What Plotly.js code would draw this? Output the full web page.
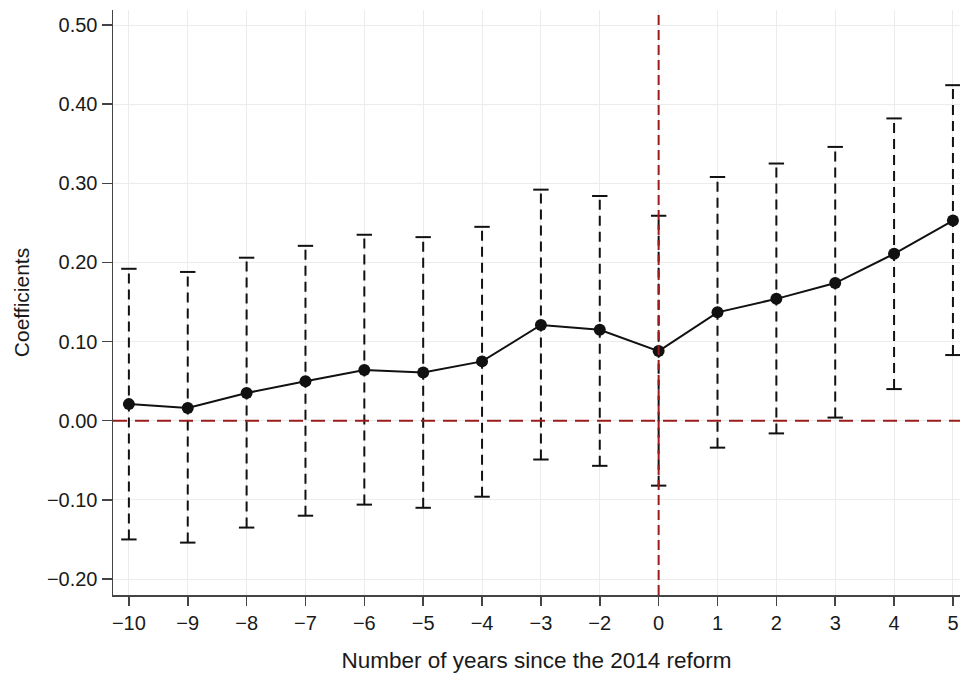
<!DOCTYPE html>
<html><head><meta charset="utf-8">
<script src="https://cdn.plot.ly/plotly-3.0.1.min.js"></script>
<style>body{margin:0;background:#fff}#chart{width:960px;height:673px}</style>
</head><body><div id="chart"></div>
<script>
// Event-study years (year -1 is the omitted reference)
const years = [-10, -9, -8, -7, -6, -5, -4, -3, -2, 0, 1, 2, 3, 4, 5];
const coef  = [0.021, 0.016, 0.035, 0.050, 0.064, 0.061, 0.075, 0.121, 0.115, 0.088, 0.137, 0.154, 0.174, 0.211, 0.253];
const ciHigh= [0.192, 0.188, 0.206, 0.221, 0.235, 0.232, 0.245, 0.292, 0.284, 0.259, 0.308, 0.325, 0.346, 0.382, 0.424];
const ciLow = [-0.150, -0.154, -0.135, -0.120, -0.106, -0.110, -0.096, -0.049, -0.057, -0.082, -0.034, -0.016, 0.004, 0.040, 0.083];
const yTicks = [-0.2, -0.1, 0, 0.1, 0.2, 0.3, 0.4, 0.5];
const reformYear = 0;

const lab = v => String(v).replace('-', '\u2212');
const xs = years.map(lab);
const reformIdx = years.indexOf(reformYear);

// dashed CI segments
const segX = [], segY = [];
xs.forEach((x, i) => { segX.push(x, x, null); segY.push(ciLow[i], ciHigh[i], null); });

const traces = [
  {x: segX, y: segY, type: 'scatter', mode: 'lines', connectgaps: false,
   line: {color: '#111', width: 2, dash: '10px,6px'}, hoverinfo: 'skip', showlegend: false},
  {x: xs.concat(xs), y: ciHigh.concat(ciLow), type: 'scatter', mode: 'markers',
   marker: {symbol: 'line-ew', size: 11, line: {color: '#111', width: 2}}, showlegend: false},
  {x: xs, y: coef, type: 'scatter', mode: 'lines+markers',
   line: {color: '#111', width: 2}, marker: {color: '#111', size: 12}, showlegend: false}
];

const gridC = '#ececec';
const red = '#9b1c1c';
const txt = '#1a1a1a';
const layout = {
  width: 960, height: 673,
  margin: {l: 113, r: 0, t: 10, b: 78},
  paper_bgcolor: '#fff', plot_bgcolor: '#fff',
  font: {family: 'Liberation Sans, Arial, sans-serif', size: 20, color: txt},
  showlegend: false,
  xaxis: {
    type: 'category', categoryorder: 'array', categoryarray: xs,
    range: [-0.27, 14.12],
    showline: true, linecolor: '#444', linewidth: 1.5,
    ticks: 'outside', ticklen: 9, tickcolor: '#444', tickwidth: 1.5,
    showgrid: true, gridcolor: gridC, gridwidth: 1,
    zeroline: false,
    title: {text: 'Number of years since the 2014 reform', font: {size: 22.5, color: txt}, standoff: 20},
    tickfont: {size: 20, color: txt}
  },
  yaxis: {
    range: [-0.2202, 0.519],
    tickvals: yTicks, tickformat: '.2f',
    showline: true, linecolor: '#444', linewidth: 1.5,
    ticks: 'outside', ticklen: 10, tickcolor: '#444', tickwidth: 1.5,
    showgrid: true, gridcolor: gridC, gridwidth: 1,
    zeroline: false,
    title: {text: 'Coefficients', font: {size: 21, color: txt}, standoff: 11},
    tickfont: {size: 20, color: txt}
  },
  shapes: [
    {type: 'line', xref: 'paper', x0: 0, x1: 1, yref: 'y', y0: 0, y1: 0,
     line: {color: red, width: 2, dash: '14px,8px'}, layer: 'above'},
    {type: 'line', xref: 'x', x0: reformIdx, x1: reformIdx, yref: 'paper', y0: 0, y1: 1,
     line: {color: red, width: 2, dash: '10px,5px'}, layer: 'above'}
  ]
};
Plotly.newPlot('chart', traces, layout, {staticPlot: true});
</script></body></html>
